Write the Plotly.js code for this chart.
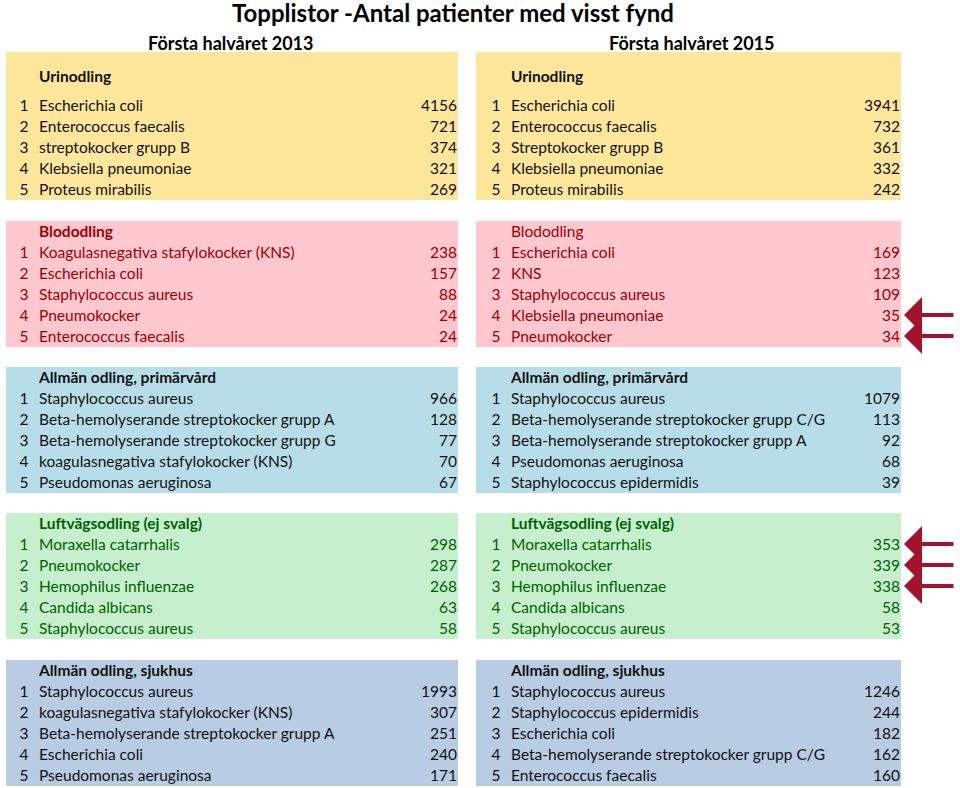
<!DOCTYPE html>
<html><head><meta charset="utf-8">
<script src="https://cdn.plot.ly/plotly-3.0.1.min.js"></script>
<style>body{margin:0;background:#fff}#chart{width:960px;height:788px}</style>
</head><body><div id="chart"></div>
<script>
// ---- data ----
const chartTitle = "Topplistor -Antal patienter med visst fynd";
const periods = ["Första halvåret 2013", "Första halvåret 2015"];
const ranks = ["1", "2", "3", "4", "5"];
const blockTitles = ["Urinodling", "Blododling", "Allmän odling, primärvård", "Luftvägsodling (ej svalg)", "Allmän odling, sjukhus"];
const blockTitles2015 = ["Urinodling", "Blododling", "Allmän odling, primärvård", "Luftvägsodling (ej svalg)", "Allmän odling, sjukhus"];

const urin2013Names = ["Escherichia coli", "Enterococcus faecalis", "streptokocker grupp B", "Klebsiella pneumoniae", "Proteus mirabilis"];
const urin2013Values = [4156, 721, 374, 321, 269];
const urin2015Names = ["Escherichia coli", "Enterococcus faecalis", "Streptokocker grupp B", "Klebsiella pneumoniae", "Proteus mirabilis"];
const urin2015Values = [3941, 732, 361, 332, 242];

const blod2013Names = ["Koagulasnegativa stafylokocker (KNS)", "Escherichia coli", "Staphylococcus aureus", "Pneumokocker", "Enterococcus faecalis"];
const blod2013Values = [238, 157, 88, 24, 24];
const blod2015Names = ["Escherichia coli", "KNS", "Staphylococcus aureus", "Klebsiella pneumoniae", "Pneumokocker"];
const blod2015Values = [169, 123, 109, 35, 34];

const prim2013Names = ["Staphylococcus aureus", "Beta-hemolyserande streptokocker grupp A", "Beta-hemolyserande streptokocker grupp G", "koagulasnegativa stafylokocker (KNS)", "Pseudomonas aeruginosa"];
const prim2013Values = [966, 128, 77, 70, 67];
const prim2015Names = ["Staphylococcus aureus", "Beta-hemolyserande streptokocker grupp C/G", "Beta-hemolyserande streptokocker grupp A", "Pseudomonas aeruginosa", "Staphylococcus epidermidis"];
const prim2015Values = [1079, 113, 92, 68, 39];

const luft2013Names = ["Moraxella catarrhalis", "Pneumokocker", "Hemophilus influenzae", "Candida albicans", "Staphylococcus aureus"];
const luft2013Values = [298, 287, 268, 63, 58];
const luft2015Names = ["Moraxella catarrhalis", "Pneumokocker", "Hemophilus influenzae", "Candida albicans", "Staphylococcus aureus"];
const luft2015Values = [353, 339, 338, 58, 53];

const sjuk2013Names = ["Staphylococcus aureus", "koagulasnegativa stafylokocker (KNS)", "Beta-hemolyserande streptokocker grupp A", "Escherichia coli", "Pseudomonas aeruginosa"];
const sjuk2013Values = [1993, 307, 251, 240, 171];
const sjuk2015Names = ["Staphylococcus aureus", "Staphylococcus epidermidis", "Escherichia coli", "Beta-hemolyserande streptokocker grupp C/G", "Enterococcus faecalis"];
const sjuk2015Values = [1246, 244, 182, 162, 160];

// highlighted rows in 2015 (block index, row index)
const highlightBlocks = [1, 1, 3, 3, 3];
const highlightRows = [3, 4, 0, 1, 2];

// ---- styling / layout ----
const FONT = "Lato, 'Liberation Sans', sans-serif";
const FS = 15.5;
const fills = ["#FEE79A", "#FFC7CE", "#B7DEE8", "#C6EFCE", "#B8CCE4"];
const textColors = ["#111111", "#9C0006", "#111111", "#006100", "#111111"];
const blockTops = [52, 221, 367, 513, 660];
const panels = [
  {bgL: 6, bgR: 458, rankX: 24, nameX: 39, valX: 457, centerX: 231},
  {bgL: 476, bgR: 901, rankX: 496, nameX: 511, valX: 900, centerX: 692}
];
const data2013 = [[urin2013Names, urin2013Values], [blod2013Names, blod2013Values], [prim2013Names, prim2013Values], [luft2013Names, luft2013Values], [sjuk2013Names, sjuk2013Values]];
const data2015 = [[urin2015Names, urin2015Values], [blod2015Names, blod2015Values], [prim2015Names, prim2015Values], [luft2015Names, luft2015Values], [sjuk2015Names, sjuk2015Values]];

const TY = 2; // text vertical nudge
function headerY(b) { return b === 0 ? 76 : blockTops[b] + 10; }
function rowY(b, i) { return b === 0 ? 105 + 21 * i : blockTops[b] + 31 + 21 * i; }
function blockBottom(b) { return b === 0 ? 200 : blockTops[b] + 126; }

const traces = [];
const shapes = [];
[data2013, data2015].forEach((pd, p) => {
  const P = panels[p];
  const titles = p === 0 ? blockTitles : blockTitles2015;
  pd.forEach((blk, b) => {
    const [names, vals] = blk;
    shapes.push({type: "rect", xref: "x", yref: "y", x0: P.bgL, x1: P.bgR, y0: blockTops[b], y1: blockBottom(b),
      fillcolor: fills[b], line: {width: 0}, layer: "below"});
    const ys = names.map((_, i) => rowY(b, i) + TY);
    const col = textColors[b];
    const headerBold = !(p === 1 && b === 1);
    traces.push({type: "scatter", mode: "text", x: [P.nameX], y: [headerY(b) + TY],
      text: [headerBold ? "<b>" + titles[b] + "</b>" : titles[b]], textposition: "middle right",
      textfont: {family: FONT, size: FS, color: col}, hoverinfo: "skip", showlegend: false, cliponaxis: false});
    traces.push({type: "scatter", mode: "text", x: ys.map(() => P.rankX), y: ys, text: ranks,
      textposition: "middle center", textfont: {family: FONT, size: FS, color: col}, hoverinfo: "skip", showlegend: false, cliponaxis: false});
    traces.push({type: "scatter", mode: "text", x: ys.map(() => P.nameX), y: ys, text: names,
      textposition: "middle right", textfont: {family: FONT, size: FS, color: col}, hoverinfo: "skip", showlegend: false, cliponaxis: false});
    traces.push({type: "scatter", mode: "text", x: ys.map(() => P.valX), y: ys, text: vals.map(String),
      textposition: "middle left", textfont: {family: FONT, size: FS, color: col}, hoverinfo: "skip", showlegend: false, cliponaxis: false});
  });
});

const annotations = [
  {xref: "paper", yref: "paper", x: 453 / 960, y: 1 - 13 / 788, text: "<b>" + chartTitle + "</b>", showarrow: false,
   font: {family: FONT, size: 24, color: "#000"}, xanchor: "center", yanchor: "middle"},
  {xref: "x", yref: "y", x: panels[0].centerX, y: 43, text: "<b>" + periods[0] + "</b>", showarrow: false,
   font: {family: FONT, size: 18, color: "#000"}, xanchor: "center", yanchor: "middle"},
  {xref: "x", yref: "y", x: panels[1].centerX, y: 43, text: "<b>" + periods[1] + "</b>", showarrow: false,
   font: {family: FONT, size: 18, color: "#000"}, xanchor: "center", yanchor: "middle"}
];
highlightBlocks.forEach((b, k) => {
  const y = rowY(b, highlightRows[k]);
  annotations.push({xref: "x", yref: "y", x: 904, y: y, axref: "x", ayref: "y", ax: 955, ay: y,
    text: "", showarrow: true, arrowhead: 1, arrowsize: 1.5, arrowwidth: 4, arrowcolor: "#A3142C", standoff: 0});
});

const layout = {
  width: 960, height: 788,
  margin: {l: 0, r: 0, t: 0, b: 0},
  paper_bgcolor: "#ffffff", plot_bgcolor: "#ffffff",
  xaxis: {range: [0, 960], visible: false, fixedrange: true},
  yaxis: {range: [788, 0], visible: false, fixedrange: true},
  shapes: shapes, annotations: annotations, showlegend: false,
  font: {family: FONT}
};
Plotly.newPlot("chart", traces, layout, {displayModeBar: false, staticPlot: true});
</script></body></html>
